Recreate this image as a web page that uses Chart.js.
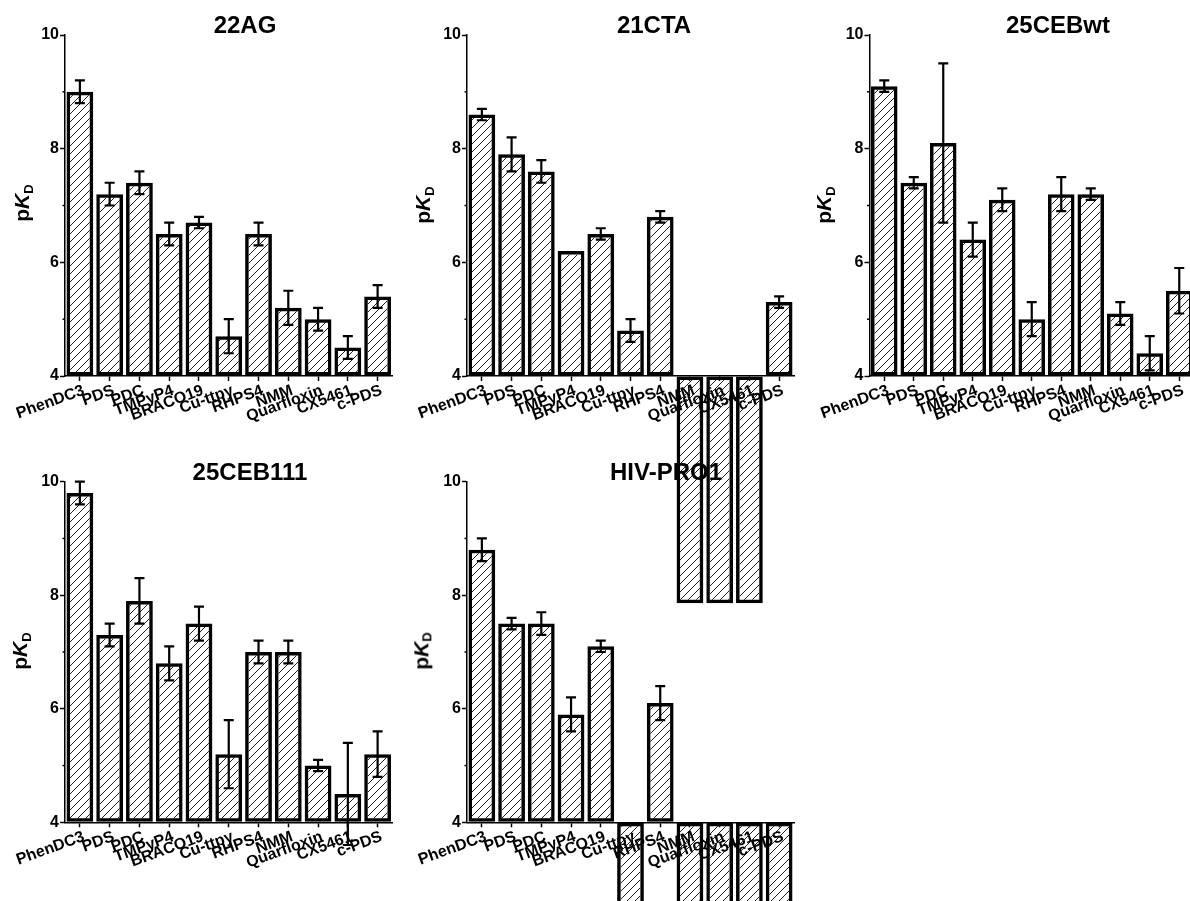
<!DOCTYPE html>
<html>
<head>
<meta charset="utf-8">
<script src="https://cdn.jsdelivr.net/npm/chart.js@4.4.0/dist/chart.umd.min.js"></script>
<style>
html, body { margin: 0; padding: 0; width: 1190px; height: 901px; overflow: hidden; background: #fff; }
canvas { position: absolute; left: 0; top: 0; }
.ttl { position: absolute; font: bold 24px Arial, 'Liberation Sans', sans-serif; line-height: 1; transform: translate(-50%, -50%); white-space: nowrap; }
.ylab { position: absolute; font: bold 21px Arial, 'Liberation Sans', sans-serif; line-height: 1; transform: translate(-50%, -50%) rotate(-90deg); white-space: nowrap; }
.ylab sub { font-size: 0.62em; vertical-align: -0.25em; }
</style>
</head>
<body>
<script>
// drugs on the x axis
var drugs = ["PhenDC3", "PDS", "PDC", "TMPyP4", "BRACO19", "Cu-ttpy", "RHPS4", "NMM", "Quarfloxin", "CX5461", "c-PDS"];

// pKD values and error bars, one pair per G4 sequence
var ag22 = [9.0, 7.2, 7.4, 6.5, 6.7, 4.7, 6.5, 5.2, 5.0, 4.5, 5.4];
var ag22Err = [0.2, 0.2, 0.2, 0.2, 0.1, 0.3, 0.2, 0.3, 0.2, 0.2, 0.2];
var cta21 = [8.6, 7.9, 7.6, 6.2, 6.5, 4.8, 6.8, 0, 0, 0, 5.3];
var cta21Err = [0.1, 0.3, 0.2, 0, 0.1, 0.2, 0.1, 0, 0, 0, 0.1];
var cebwt = [9.1, 7.4, 8.1, 6.4, 7.1, 5.0, 7.2, 7.2, 5.1, 4.4, 5.5];
var cebwtErr = [0.1, 0.1, 1.4, 0.3, 0.2, 0.3, 0.3, 0.1, 0.2, 0.3, 0.4];
var ceb111 = [9.8, 7.3, 7.9, 6.8, 7.5, 5.2, 7.0, 7.0, 5.0, 4.5, 5.2];
var ceb111Err = [0.2, 0.2, 0.4, 0.3, 0.3, 0.6, 0.2, 0.2, 0.1, 0.9, 0.4];
var hiv = [8.8, 7.5, 7.5, 5.9, 7.1, 0, 6.1, 0, 0, 0, 0];
var hivErr = [0.2, 0.1, 0.2, 0.3, 0.1, 0, 0.3, 0, 0, 0, 0];

var yMin = 4, yMax = 10;
var yTicks = [4, 6, 8, 10];

var FONT = "Arial, 'Liberation Sans', sans-serif";
var CW = 1220, CH = 1100, YW = 45, XH = 90;

// where each panel sits on the page: plot area [left, top, right, bottom]
var panels = [
    { title: "22AG",     values: ag22,   errs: ag22Err,   area: [65, 35, 392.5, 376],      titleAt: [245, 25],  labelAt: [23, 203] },
    { title: "21CTA",    values: cta21,  errs: cta21Err,  area: [467, 35, 794, 376],       titleAt: [654, 25],  labelAt: [424, 205] },
    { title: "25CEBwt",  values: cebwt,  errs: cebwtErr,  area: [869.5, 35, 1194, 376],    titleAt: [1058, 25], labelAt: [825, 205] },
    { title: "25CEB111", values: ceb111, errs: ceb111Err, area: [65, 481.7, 392.5, 822.3], titleAt: [250, 472], labelAt: [21, 651] },
    { title: "HIV-PRO1", values: hiv,    errs: hivErr,    area: [467, 481.7, 794, 822.3],  titleAt: [666, 472], labelAt: [422, 651] }
];

// diagonal hatch used as the bar fill
function makeHatch() {
    var s = 8;
    var c = document.createElement('canvas');
    c.width = s; c.height = s;
    var g = c.getContext('2d');
    g.strokeStyle = '#222';
    g.lineWidth = 1;
    g.beginPath();
    g.moveTo(0, s); g.lineTo(s, 0);
    g.moveTo(-1, 1); g.lineTo(1, -1);
    g.moveTo(s - 1, s + 1); g.lineTo(s + 1, s - 1);
    g.stroke();
    return g.createPattern(c, 'repeat');
}
var hatch = makeHatch();

// error bars + short minor ticks on the y axis
var errorBars = {
    id: 'errorBars',
    afterDatasetsDraw: function(chart) {
        var ctx = chart.ctx;
        var y = chart.scales.y;
        var ds = chart.data.datasets[0];
        var meta = chart.getDatasetMeta(0);
        ctx.save();
        ctx.strokeStyle = '#000';
        ctx.lineWidth = 2.2;
        meta.data.forEach(function(bar, i) {
            var e = ds.errs[i];
            if (!e) return;
            var v = ds.data[i];
            var top = y.getPixelForValue(v + e), bot = y.getPixelForValue(v - e);
            ctx.beginPath();
            ctx.moveTo(bar.x, top); ctx.lineTo(bar.x, bot);
            ctx.moveTo(bar.x - 5, top); ctx.lineTo(bar.x + 5, top);
            ctx.moveTo(bar.x - 5, bot); ctx.lineTo(bar.x + 5, bot);
            ctx.stroke();
        });
        ctx.lineWidth = 1.5;
        [5, 7, 9].forEach(function(v) {
            var py = y.getPixelForValue(v);
            ctx.beginPath();
            ctx.moveTo(y.right - 2.5, py); ctx.lineTo(y.right, py);
            ctx.stroke();
        });
        ctx.restore();
    }
};

panels.forEach(function(p) {
    var cv = document.createElement('canvas');
    cv.width = CW; cv.height = CH;
    document.body.appendChild(cv);
    var a = p.area;

    new Chart(cv.getContext('2d'), {
        type: 'bar',
        data: {
            labels: drugs,
            datasets: [{
                data: p.values,
                errs: p.errs,
                base: yMin,
                backgroundColor: hatch,
                borderColor: '#000',
                borderWidth: 3.5,
                borderSkipped: false,
                barPercentage: 0.9,
                categoryPercentage: 1,
                clip: false
            }]
        },
        options: {
            responsive: false,
            animation: false,
            devicePixelRatio: 1,
            layout: { padding: { left: a[0] - YW, top: a[1], right: CW - a[2], bottom: CH - a[3] - XH } },
            plugins: { legend: { display: false }, tooltip: { enabled: false }, title: { display: false } },
            scales: {
                x: {
                    grid: { drawOnChartArea: false, drawTicks: true, tickLength: 5, offset: false, tickColor: '#000', tickWidth: 1.5 },
                    border: { display: true, color: '#000', width: 1.5 },
                    ticks: { color: '#000', font: { family: FONT, size: 16, weight: 'bold' }, minRotation: 20, maxRotation: 20, autoSkip: false, padding: 0, labelOffset: 4 },
                    afterFit: function(s) { s.height = XH; s.paddingLeft = 0; s.paddingRight = 0; }
                },
                y: {
                    min: yMin, max: yMax,
                    grid: {
                        drawOnChartArea: false, tickLength: 5, tickWidth: 1.5,
                        tickColor: function(c) { return yTicks.indexOf(c.tick.value) >= 0 ? '#000' : 'rgba(0,0,0,0)'; }
                    },
                    border: { display: true, color: '#000', width: 1.5 },
                    ticks: {
                        stepSize: 1, padding: 1, color: '#000',
                        font: { family: FONT, size: 16, weight: 'bold' },
                        callback: function(v) { return yTicks.indexOf(v) >= 0 ? v : ''; }
                    },
                    afterFit: function(s) { s.width = YW; s.paddingTop = 0; s.paddingBottom = 0; }
                }
            }
        },
        plugins: [errorBars]
    });

    var t = document.createElement('div');
    t.className = 'ttl';
    t.textContent = p.title;
    t.style.left = p.titleAt[0] + 'px';
    t.style.top = p.titleAt[1] + 'px';
    document.body.appendChild(t);

    var l = document.createElement('div');
    l.className = 'ylab';
    l.innerHTML = 'p<i>K</i><sub>D</sub>';
    l.style.left = p.labelAt[0] + 'px';
    l.style.top = p.labelAt[1] + 'px';
    document.body.appendChild(l);
});
</script>
</body>
</html>
